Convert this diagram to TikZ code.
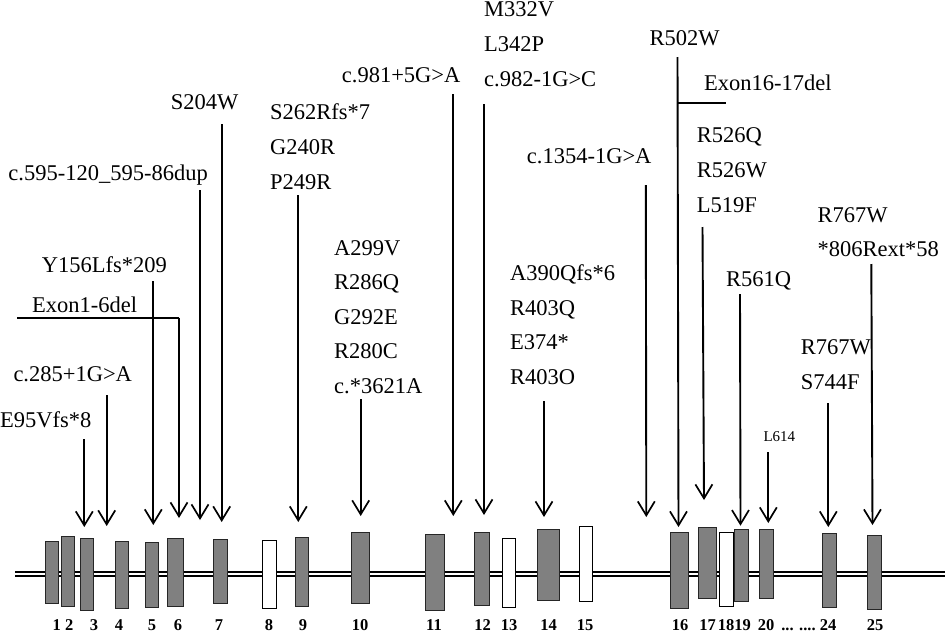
\documentclass[tikz,border=0pt]{standalone}
\usepackage{fontspec}
\setmainfont{Liberation Serif}
\usetikzlibrary{arrows.meta}
\begin{document}
\begin{tikzpicture}[x=1pt,y=-1pt,
  mut/.style={anchor=base west,inner sep=0pt,font=\fontsize{22.5}{26}\selectfont},
  small/.style={anchor=base west,inner sep=0pt,font=\fontsize{15}{18}\selectfont},
  num/.style={anchor=base,inner sep=0pt,font=\fontsize{16.5}{20}\selectfont\bfseries},
  exon/.style={draw=black!85,fill=black!50,line width=0.9pt,inner sep=0pt,minimum width=#1},
  wexon/.style={draw=black,fill=white,line width=0.9pt,inner sep=0pt,minimum width=#1},
  intron/.style={line width=1.2pt},
  mline/.style={line width=1.9pt},
  marr/.style={line width=1.9pt,-{Straight Barb[length=14pt,width=17pt,line width=1.7pt]}}
]
\useasboundingbox (0,0) rectangle (945,632);
% intron double line
\coordinate (L1) at (15,572); \coordinate (R1) at (945,572);
\coordinate (L2) at (15,576); \coordinate (R2) at (945,576);
\draw[intron] (L1) -- (R1);
\draw[intron] (L2) -- (R2);
% exons
\node[exon=13.4pt,minimum height=62pt] (e1) at (52,572) {};
\node[exon=13.3pt,minimum height=70pt] (e2) at (67.7,571) {};
\node[exon=13.7pt,minimum height=72pt] (e3) at (86.9,574) {};
\node[exon=13.7pt,minimum height=67pt] (e4) at (121.9,575.2) {};
\node[exon=13.7pt,minimum height=65pt] (e5) at (151.9,574.5) {};
\node[exon=16.3pt,minimum height=68pt] (e6) at (175.2,572) {};
\node[exon=14.4pt,minimum height=64pt] (e7) at (220.5,571) {};
\node[wexon=13.6pt,minimum height=68.7pt] (e8) at (269.5,574.3) {};
\node[exon=13.4pt,minimum height=69pt] (e9) at (302,571.5) {};
\node[exon=18.3pt,minimum height=71.7pt] (e10) at (360.2,567.8) {};
\node[exon=18.6pt,minimum height=76.3pt] (e11) at (435,572.2) {};
\node[exon=14.6pt,minimum height=73.3pt] (e12) at (482,568.7) {};
\node[wexon=13.4pt,minimum height=69.3pt] (e13) at (509,572.7) {};
\node[exon=21.3pt,minimum height=71.7pt] (e14) at (548.3,564.8) {};
\node[wexon=13.7pt,minimum height=75pt] (e15) at (585.8,564.2) {};
\node[exon=17.3pt,minimum height=75.7pt] (e16) at (679.3,570.2) {};
\node[exon=17.3pt,minimum height=70.3pt] (e17) at (707.3,562.8) {};
\node[wexon=14pt,minimum height=73.6pt] (e18) at (726,569.5) {};
\node[exon=13.6pt,minimum height=71.7pt] (e19) at (741.5,565.2) {};
\node[exon=14pt,minimum height=69.7pt] (e20) at (766,563.8) {};
\node[exon=13.3pt,minimum height=74pt] (e24) at (829.3,570.3) {};
\node[exon=13.7pt,minimum height=73.6pt] (e25) at (874.2,572.5) {};
% exon numbers
\node[num] (n1) at (56.7,630) {1};
\node[num] (n2) at (69.3,630) {2};
\node[num] (n3) at (94,630) {3};
\node[num] (n4) at (119,630) {4};
\node[num] (n5) at (152,630) {5};
\node[num] (n6) at (178,630) {6};
\node[num] (n7) at (219,630) {7};
\node[num] (n8) at (269,630) {8};
\node[num] (n9) at (303,630) {9};
\node[num] (n10) at (360,630) {10};
\node[num] (n11) at (434,630) {11};
\node[num] (n12) at (482.7,630) {12};
\node[num] (n13) at (509,630) {13};
\node[num] (n14) at (548.7,630) {14};
\node[num] (n15) at (585,630) {15};
\node[num] (n16) at (680,630) {16};
\node[num] (n17) at (707.5,630) {17};
\node[num] (n18) at (726,630) {18};
\node[num] (n19) at (742.5,630) {19};
\node[num] (n20) at (766,630) {20};
\node[num] (ndots) at (798.5,630) {... ....};
\node[num] (n24) at (828,630) {24};
\node[num] (n25) at (875,630) {25};
% mutation labels
\node[mut] (tE95) at (0,427) {E95Vfs*8};
\node[mut] (t285) at (13.3,381.5) {c.285+1G>A};
\node[mut] (tdel16) at (32,312) {Exon1-6del};
\node[mut] (tY156) at (41.7,272.5) {Y156Lfs*209};
\node[mut] (t595) at (8.3,180) {c.595-120\_595-86dup};
\node[mut] (tS204) at (170.7,109.5) {S204W};
\node[mut] (tS262) at (270,119) {S262Rfs*7};
\node[mut] (tG240) at (270,154) {G240R};
\node[mut] (tP249) at (270,189) {P249R};
\node[mut] (t981) at (341.7,82.3) {c.981+5G>A};
\node[mut] (tM332) at (484,16) {M332V};
\node[mut] (tL342) at (484,51) {L342P};
\node[mut] (t982) at (484,86) {c.982-1G>C};
\node[mut] (t1354) at (526.7,163.3) {c.1354-1G>A};
\node[mut] (tA299) at (334,255) {A299V};
\node[mut] (tR286) at (334,289.5) {R286Q};
\node[mut] (tG292) at (334,324) {G292E};
\node[mut] (tR280) at (334,358.5) {R280C};
\node[mut] (t3621) at (334,393) {c.*3621A};
\node[mut] (tA390) at (510,280) {A390Qfs*6};
\node[mut] (tR403Q) at (510,315) {R403Q};
\node[mut] (tE374) at (510,349) {E374*};
\node[mut] (tR403O) at (510,384) {R403O};
\node[mut] (tR502) at (649.3,45) {R502W};
\node[mut] (tdel1617) at (704,90) {Exon16-17del};
\node[mut] (tR526Q) at (696.7,142.5) {R526Q};
\node[mut] (tR526W) at (696.7,177.5) {R526W};
\node[mut] (tL519) at (696.7,212.5) {L519F};
\node[mut] (tR561) at (726,286.7) {R561Q};
\node[small] (tL614) at (763.3,441.7) {L614};
\node[mut] (tR767a) at (817.3,222.7) {R767W};
\node[mut] (t806) at (817.3,256) {*806Rext*58};
\node[mut] (tR767b) at (800.7,354) {R767W};
\node[mut] (tS744) at (800.7,389) {S744F};
% arrow coordinates
\coordinate (s1) at (84.3,439);   \coordinate (d1) at (84.3,527);
\coordinate (s2) at (106.7,395);  \coordinate (d2) at (106.7,526);
\coordinate (s3) at (153.3,281);  \coordinate (d3) at (153.3,525);
\coordinate (h1) at (17.3,317.7); \coordinate (s4) at (179,317.7); \coordinate (d4) at (179,518);
\coordinate (s5) at (200,190);    \coordinate (d5) at (200,520);
\coordinate (s6) at (221.7,124);  \coordinate (d6) at (221.7,522);
\coordinate (s7) at (298.3,195);  \coordinate (d7) at (298.3,522);
\coordinate (s8) at (360.7,399);  \coordinate (d8) at (360.7,516);
\coordinate (s9) at (453.3,94);   \coordinate (d9) at (453.3,516);
\coordinate (s10) at (484,104);   \coordinate (d10) at (484,515);
\coordinate (s11) at (544,401);   \coordinate (d11) at (544,517);
\coordinate (s12) at (645.8,185); \coordinate (d12) at (646.3,517);
\coordinate (s13) at (677.5,57);  \coordinate (d13) at (678.5,527);
\coordinate (h2) at (677.5,103.3); \coordinate (h3) at (725.7,103.3);
\coordinate (s14) at (702.5,227); \coordinate (d14) at (704,500);
\coordinate (s15) at (740,294);   \coordinate (d15) at (740.5,525.7);
\coordinate (s16) at (768.3,452); \coordinate (d16) at (768.3,523);
\coordinate (s17) at (828.3,403); \coordinate (d17) at (828.3,527);
\coordinate (s18) at (871.3,264); \coordinate (d18) at (872.5,525);
% connectors
\draw[marr] (s1) -- (d1);
\draw[marr] (s2) -- (d2);
\draw[marr] (s3) -- (d3);
\draw[mline] (h1) -- (s4);
\draw[marr] (s4) -- (d4);
\draw[marr] (s5) -- (d5);
\draw[marr] (s6) -- (d6);
\draw[marr] (s7) -- (d7);
\draw[marr] (s8) -- (d8);
\draw[marr] (s9) -- (d9);
\draw[marr] (s10) -- (d10);
\draw[marr] (s11) -- (d11);
\draw[marr] (s12) -- (d12);
\draw[marr] (s13) -- (d13);
\draw[mline] (h2) -- (h3);
\draw[marr] (s14) -- (d14);
\draw[marr] (s15) -- (d15);
\draw[marr] (s16) -- (d16);
\draw[marr] (s17) -- (d17);
\draw[marr] (s18) -- (d18);
\end{tikzpicture}
\end{document}
